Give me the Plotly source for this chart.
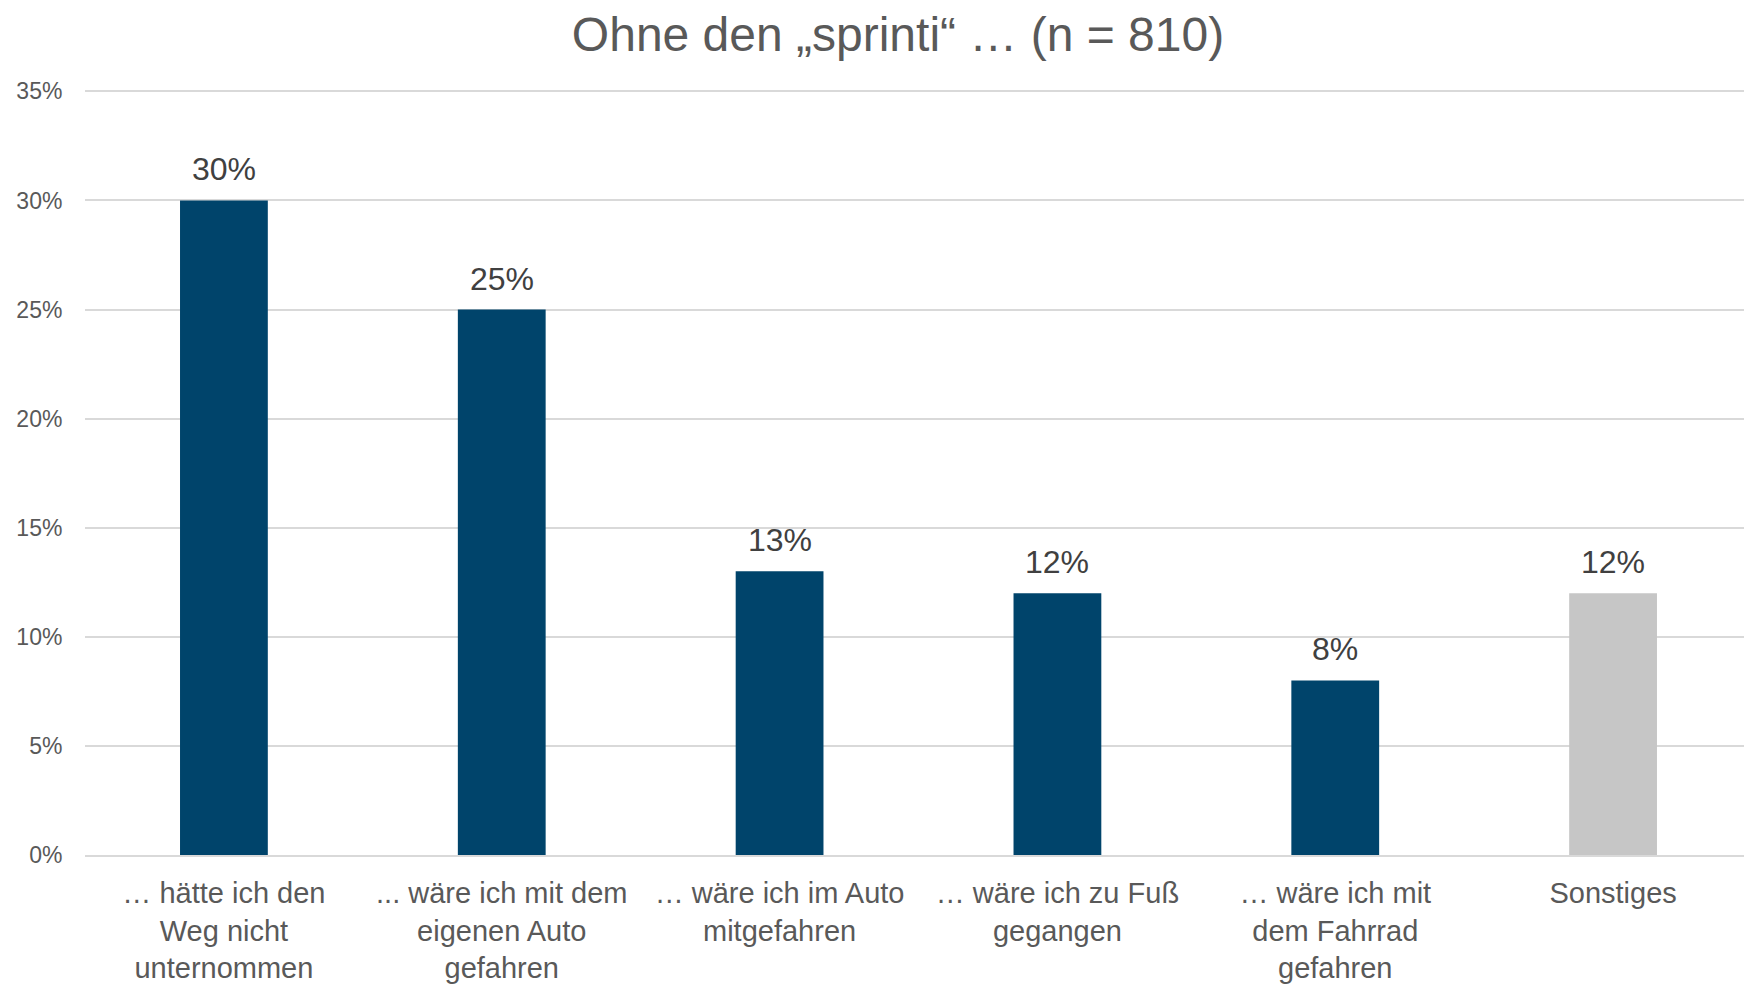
import plotly.graph_objects as go

categories = [
    "… hätte ich den<br>Weg nicht<br>unternommen",
    "... wäre ich mit dem<br>eigenen Auto<br>gefahren",
    "… wäre ich im Auto<br>mitgefahren",
    "… wäre ich zu Fuß<br>gegangen",
    "… wäre ich mit<br>dem Fahrrad<br>gefahren",
    "Sonstiges",
]
values = [0.30, 0.25, 0.13, 0.12, 0.08, 0.12]
labels = ["30%", "25%", "13%", "12%", "8%", "12%"]
bar_colors = ["#00446B", "#00446B", "#00446B", "#00446B", "#00446B", "#C6C6C6"]
tick_vals = [0, 0.05, 0.10, 0.15, 0.20, 0.25, 0.30, 0.35]
tick_text = ["0%", "5%", "10%", "15%", "20%", "25%", "30%", "35%"]

FONT = "Arial, Liberation Sans, sans-serif"

# the page body adds an 8px offset; the figure is sized to fit the window
W, H = 1744, 978

fig = go.Figure()
fig.add_trace(go.Bar(
    x=categories,
    y=values,
    marker=dict(color=bar_colors, line=dict(width=0)),
    cliponaxis=False,
    hoverinfo="skip",
))

for cat, val, lab in zip(categories, values, labels):
    fig.add_annotation(
        x=cat, y=val, text=lab, showarrow=False,
        xanchor="center", yanchor="bottom", yshift=11,
        font=dict(family=FONT, size=32, color="#404040"),
    )

fig.update_layout(
    width=W,
    height=H,
    paper_bgcolor="white",
    plot_bgcolor="white",
    margin=dict(l=77, r=0, t=79, b=131, autoexpand=False),
    bargap=0.684,
    showlegend=False,
    title=dict(
        text="Ohne den „sprinti“ … (n = 810)",
        font=dict(family=FONT, size=48, color="#595959"),
        x=890 / W,
        xanchor="center",
        xref="container",
        y=1 - 26 / H,
        yanchor="middle",
    ),
    font=dict(family=FONT, color="#595959"),
)

fig.update_yaxes(
    range=[0, 0.352],
    tickvals=tick_vals,
    ticktext=tick_text,
    tickfont=dict(family=FONT, size=23, color="#595959"),
    showgrid=True,
    gridcolor="#D9D9D9",
    gridwidth=2,
    zeroline=False,
    showline=False,
    ticks="outside",
    ticklen=17,
    tickcolor="rgba(0,0,0,0)",
    automargin=False,
)
fig.update_xaxes(
    tickfont=dict(family=FONT, size=29, color="#595959"),
    showline=True,
    linecolor="#D9D9D9",
    linewidth=2,
    ticks="outside",
    ticklen=11,
    tickcolor="rgba(0,0,0,0)",
    tickangle=0,
    automargin=False,
)

fig.write_html("out.html")
